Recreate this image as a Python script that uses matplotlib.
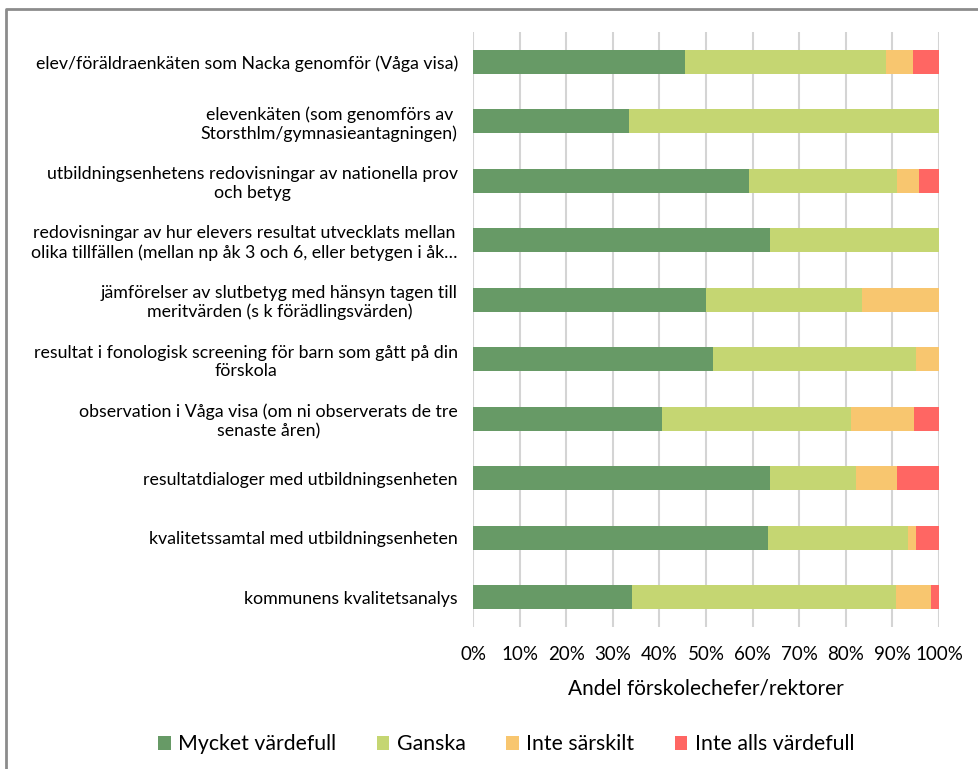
import matplotlib.pyplot as plt
import numpy as np

plt.rcParams['font.family'] = ['Lato', 'DejaVu Sans']

categories = [
    "elev/föräldraenkäten som Nacka genomför (Våga visa)",
    "elevenkäten (som genomförs av\nStorsthlm/gymnasieantagningen)",
    "utbildningsenhetens redovisningar av nationella prov\noch betyg",
    "redovisningar av hur elevers resultat utvecklats mellan\nolika tillfällen (mellan np åk 3 och 6, eller betygen i åk…",
    "jämförelser av slutbetyg med hänsyn tagen till\nmeritvärden (s k förädlingsvärden)",
    "resultat i fonologisk screening för barn som gått på din\nförskola",
    "observation i Våga visa (om ni observerats de tre\nsenaste åren)",
    "resultatdialoger med utbildningsenheten",
    "kvalitetssamtal med utbildningsenheten",
    "kommunens kvalitetsanalys",
]

series_names = ["Mycket värdefull", "Ganska", "Inte särskilt", "Inte alls värdefull"]
mycket = [45.4, 33.5, 59.2, 63.8, 50.0, 51.4, 40.5, 63.8, 63.4, 34.1]
ganska = [43.3, 66.5, 31.8, 36.2, 33.4, 43.6, 40.6, 18.3, 30.0, 56.6]
inte_sarskilt = [5.8, 0.0, 4.6, 0.0, 16.6, 5.0, 13.5, 8.8, 1.7, 7.5]
inte_alls = [5.5, 0.0, 4.4, 0.0, 0.0, 0.0, 5.4, 9.1, 4.9, 1.8]
colors = ['#679A66', '#C5D672', '#F8C66F', '#FF6663']

fig = plt.figure(figsize=(9.79, 7.69), dpi=100)
ax = fig.add_axes([0.4832, 0.1847, 0.476, 0.7737])

y = np.arange(len(categories))
left = np.zeros(len(categories))
for vals, name, col in zip([mycket, ganska, inte_sarskilt, inte_alls], series_names, colors):
    vals = np.array(vals)
    ax.barh(y, vals, left=left, height=0.4, color=col, label=name, zorder=2)
    left += vals

ax.set_ylim(len(categories) - 0.5, -0.5)
ax.set_xlim(0, 100)
ax.set_xticks(np.arange(0, 101, 10))
ax.set_xticklabels([f"{v}%" for v in range(0, 101, 10)], fontsize=13.5)
ax.set_yticks(y)
ax.set_yticklabels(categories, fontsize=12.8)
for lab in ax.get_yticklabels():
    lab.set_multialignment('center')
ax.tick_params(axis='both', length=0)
ax.tick_params(axis='y', pad=11)
ax.tick_params(axis='x', pad=14)
ax.grid(axis='x', color='#D4D4D4', linewidth=1.5, zorder=0)
for s in ax.spines.values():
    s.set_visible(False)
ax.set_xlabel("Andel förskolechefer/rektorer", fontsize=15, labelpad=11)

fig.legend(loc='center', bbox_to_anchor=(0.517, 0.032), ncol=4, frameon=False,
           fontsize=15.3, handlelength=0.6, handleheight=0.6, handletextpad=0.35,
           columnspacing=1.9)

# outer chart frame
fig.add_artist(plt.Line2D([0.006, 0.006, 1.0], [0.0, 0.988, 0.988], color='#8C8C8C',
                          linewidth=2, transform=fig.transFigure))

fig.savefig('out.png', dpi=100)
